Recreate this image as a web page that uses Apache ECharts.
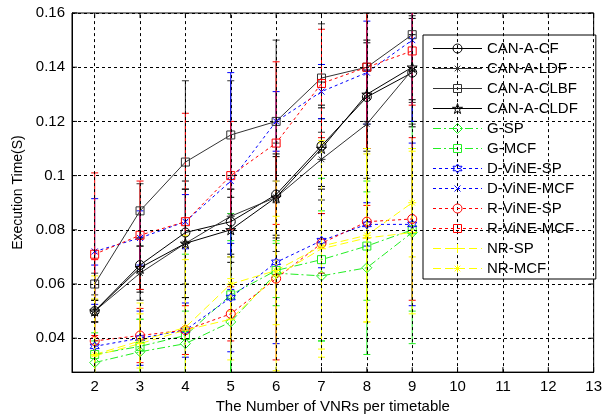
<!DOCTYPE html>
<html>
<head>
<meta charset="utf-8">
<script src="https://cdn.jsdelivr.net/npm/echarts@6/dist/echarts.min.js"></script>
<style>
  html, body { margin: 0; padding: 0; background: #fff; }
  #chart { width: 605px; height: 419px; }
</style>
</head>
<body>
<div id="chart"></div>
<script>
// x positions (number of VNRs per timetable)
const xValues = [2, 3, 4, 5, 6, 7, 8, 9];
const xTicks = [2, 3, 4, 5, 6, 7, 8, 9, 10, 11, 12, 13];
const yTicks = [0.04, 0.06, 0.08, 0.1, 0.12, 0.14, 0.16];

// mean execution time per algorithm
const canACF     = [0.050, 0.067, 0.079, 0.083, 0.093, 0.111, 0.129, 0.138];
const canALDF    = [0.050, 0.064, 0.075, 0.085, 0.092, 0.106, 0.119, 0.139];
const canACLBF   = [0.060, 0.087, 0.105, 0.115, 0.120, 0.136, 0.140, 0.152];
const canACLDF   = [0.050, 0.066, 0.075, 0.080, 0.092, 0.110, 0.130, 0.140];
const gSP        = [0.031, 0.035, 0.038, 0.046, 0.064, 0.063, 0.066, 0.079];
const gMCF       = [0.034, 0.037, 0.041, 0.056, 0.065, 0.069, 0.074, 0.080];
const dVineSP    = [0.037, 0.040, 0.043, 0.055, 0.068, 0.076, 0.082, 0.082];
const dVineMCF   = [0.072, 0.077, 0.083, 0.098, 0.120, 0.131, 0.138, 0.150];
const rVineSP    = [0.039, 0.041, 0.043, 0.049, 0.062, 0.075, 0.083, 0.084];
const rVineMCF   = [0.071, 0.078, 0.083, 0.100, 0.112, 0.134, 0.140, 0.146];
const nrSP       = [0.0335, 0.038, 0.043, 0.047, 0.063, 0.073, 0.077, 0.079];
const nrMCF      = [0.034, 0.039, 0.044, 0.060, 0.065, 0.074, 0.078, 0.090];

// symmetric error (half length of the error bar)
const canACFErr   = [0.004, 0.010, 0.019, 0.012, 0.015, 0.015, 0.020, 0.020];
const canALDFErr  = [0.004, 0.010, 0.020, 0.015, 0.020, 0.015, 0.020, 0.020];
const canACLBFErr = [0.004, 0.010, 0.030, 0.020, 0.030, 0.020, 0.020, 0.025];
const canACLDFErr = [0.004, 0.008, 0.020, 0.012, 0.015, 0.015, 0.020, 0.012];
const gSPErr      = [0.008, 0.012, 0.012, 0.030, 0.012, 0.024, 0.032, 0.041];
const gMCFErr     = [0.008, 0.010, 0.030, 0.030, 0.010, 0.030, 0.020, 0.030];
const dVineSPErr  = [0.030, 0.010, 0.010, 0.020, 0.030, 0.010, 0.008, 0.030];
const dVineMCFErr = [0.0195, 0.010, 0.010, 0.040, 0.011, 0.010, 0.019, 0.030];
const rVineSPErr  = [0.030, 0.010, 0.009, 0.010, 0.030, 0.011, 0.006, 0.030];
const rVineMCFErr = [0.030, 0.020, 0.040, 0.020, 0.030, 0.020, 0.030, 0.020];
const nrSPErr     = [0.0295, 0.015, 0.035, 0.015, 0.035, 0.040, 0.031, 0.030];
const nrMCFErr    = [0.0205, 0.010, 0.025, 0.010, 0.020, 0.038, 0.032, 0.020];

// marker shapes matlab uses (svg paths in a 10x10 box)
const circlePath = 'M0,5A5,5 0 1,1 10,5A5,5 0 1,1 0,5Z';
const squarePath = 'M0,0L10,0L10,10L0,10Z';
const diamondPath = 'M5,0L10,5L5,10L0,5Z';
const asteriskPath = 'M5,0L5,10M0,5L10,5M1.5,1.5L8.5,8.5M1.5,8.5L8.5,1.5';
const crossPath = 'M0,0L10,10M10,0L0,10';
const plusPath = 'M5,0L5,10M0,5L10,5';
const pentagramPath = 'M5,0L6.123,3.455L9.755,3.455L6.816,5.59L7.939,9.045L5,6.91L2.061,9.045L3.184,5.59L0.245,3.455L3.877,3.455Z';
const hexagramPath = 'M5,0L6.443,2.5L9.33,2.5L7.887,5L9.33,7.5L6.443,7.5L5,10L3.557,7.5L0.67,7.5L2.113,5L0.67,2.5L3.557,2.5Z';

const solid = 'solid';
const dashDot = [8, 3, 2, 3];
const dotted = [3, 3];
const dashed = [8, 4];

const defs = [
  { name: 'CAN-A-CF',    data: canACF,   err: canACFErr,   color: '#000000', dash: solid,   marker: circlePath,    size: 9 },
  { name: 'CAN-A-LDF',   data: canALDF,  err: canALDFErr,  color: '#333333', dash: solid,   marker: asteriskPath,  size: 8 },
  { name: 'CAN-A-CLBF',  data: canACLBF, err: canACLBFErr, color: '#333333', dash: solid,   marker: squarePath,    size: 8 },
  { name: 'CAN-A-CLDF',  data: canACLDF, err: canACLDFErr, color: '#000000', dash: solid,   marker: pentagramPath, size: 10 },
  { name: 'G-SP',        data: gSP,      err: gSPErr,      color: '#22ee22', dash: dashDot, marker: diamondPath,   size: 10 },
  { name: 'G-MCF',       data: gMCF,     err: gMCFErr,     color: '#22ee22', dash: dashDot, marker: squarePath,    size: 8 },
  { name: 'D-ViNE-SP',   data: dVineSP,  err: dVineSPErr,  color: '#0000ff', dash: dotted,  marker: hexagramPath,  size: 9 },
  { name: 'D-ViNE-MCF',  data: dVineMCF, err: dVineMCFErr, color: '#0000ff', dash: dotted,  marker: crossPath,     size: 6 },
  { name: 'R-ViNE-SP',   data: rVineSP,  err: rVineSPErr,  color: '#ff0000', dash: dotted,  marker: circlePath,    size: 9 },
  { name: 'R-ViNE-MCF',  data: rVineMCF, err: rVineMCFErr, color: '#ff0000', dash: dotted,  marker: squarePath,    size: 8 },
  { name: 'NR-SP',       data: nrSP,     err: nrSPErr,     color: '#ffff00', dash: dashed,  marker: plusPath,      size: 9 },
  { name: 'NR-MCF',      data: nrMCF,    err: nrMCFErr,    color: '#ffff00', dash: dashed,  marker: asteriskPath,  size: 8 }
];

const isMultiple = (v, step) => Math.abs(v / step - Math.round(v / step)) < 1e-6;

function errorBar(color) {
  return function (params, api) {
    const x = api.value(0);
    const lo = api.coord([x, api.value(1)]);
    const hi = api.coord([x, api.value(2)]);
    const r = params.coordSys;
    const top = Math.max(hi[1], r.y);
    const bot = Math.min(lo[1], r.y + r.height);
    const children = [];
    const style = { stroke: color, lineWidth: 1 };
    if (bot > top) {
      children.push({ type: 'line', shape: { x1: lo[0], y1: top, x2: lo[0], y2: bot }, style: style });
    }
    [lo[1], hi[1]].forEach(function (y) {
      if (y >= r.y && y <= r.y + r.height) {
        children.push({ type: 'line', shape: { x1: lo[0] - 3.5, y1: y, x2: lo[0] + 3.5, y2: y }, style: style });
      }
    });
    return { type: 'group', children: children };
  };
}

// inward matlab style ticks on all four sides of the box
function tickMarks(params, api) {
  const r = params.coordSys;
  const p = api.coord([api.value(0), api.value(1)]);
  const style = { stroke: '#000', lineWidth: 1 };
  const lines = api.value(2) === 0
    ? [[p[0], r.y + r.height, p[0], r.y + r.height - 5], [p[0], r.y, p[0], r.y + 5]]
    : [[r.x, p[1], r.x + 5, p[1]], [r.x + r.width, p[1], r.x + r.width - 5, p[1]]];
  return {
    type: 'group',
    children: lines.map(l => ({ type: 'line', shape: { x1: l[0], y1: l[1], x2: l[2], y2: l[3] }, style: style }))
  };
}

const series = [{
  type: 'line',
  data: [],
  silent: true,
  markLine: {
    silent: true,
    symbol: ['none', 'none'],
    label: { show: false },
    lineStyle: { color: '#000', type: [3, 3], width: 1 },
    data: xTicks.map(v => ({ xAxis: v })).concat(yTicks.map(v => ({ yAxis: v })))
  }
}, {
  type: 'custom',
  silent: true,
  renderItem: tickMarks,
  data: xTicks.map(v => [v, 0.1, 0]).concat(yTicks.map(v => [7, v, 1]))
}];

defs.forEach(function (d) {
  series.push({
    name: d.name + ' err',
    type: 'custom',
    renderItem: errorBar(d.color),
    encode: { x: 0, y: [1, 2] },
    data: xValues.map((x, i) => [x, d.data[i] - d.err[i], d.data[i] + d.err[i]]),
    silent: true
  });
  series.push({
    name: d.name,
    type: 'line',
    data: xValues.map((x, i) => [x, d.data[i]]),
    symbol: 'path://' + d.marker,
    symbolSize: d.size,
    showAllSymbol: true,
    lineStyle: { color: d.color, width: 1, type: d.dash },
    itemStyle: { color: 'transparent', borderColor: d.color, borderWidth: 1 }
  });
});

// legend box comes from the legend component; line + marker samples next to the text
// each legend row is 15px of text plus a 5px gap
const legendLeft = 423, legendTop = 35, textH = 15, rowGap = 5, padTop = 6, padLeft = 10, sampleW = 49;
series.push({
  name: 'legend samples',
  type: 'custom',
  coordinateSystem: 'none',
  silent: true,
  z: 10,
  data: defs.map((d, i) => [i]),
  renderItem: function (params) {
    const d = defs[params.dataIndex];
    const cy = legendTop + padTop + textH / 2 + params.dataIndex * (textH + rowGap);
    const x0 = legendLeft + padLeft;
    return {
      type: 'group',
      children: [{
        type: 'line',
        shape: { x1: x0, y1: cy, x2: x0 + sampleW, y2: cy },
        style: { stroke: d.color, lineWidth: 1, lineDash: d.dash === solid ? null : d.dash }
      }, {
        type: 'path',
        shape: { pathData: d.marker, x: x0 + sampleW / 2 - d.size / 2, y: cy - d.size / 2, width: d.size, height: d.size, layout: 'cover' },
        style: { fill: 'none', stroke: d.color, lineWidth: 1 }
      }]
    };
  }
});

const chart = echarts.init(document.getElementById('chart'));
chart.setOption({
  animation: false,
  textStyle: { fontFamily: 'Liberation Sans, Arial, sans-serif', color: '#000' },
  grid: { left: 72, top: 13, right: 11, bottom: 39, show: true, borderColor: '#000', borderWidth: 1, backgroundColor: '#fff' },
  legend: {
    orient: 'vertical',
    left: legendLeft,
    top: legendTop,
    data: defs.map(d => ({ name: d.name, icon: 'rect' })),
    selectedMode: false,
    itemWidth: sampleW,
    itemHeight: 14,
    itemGap: rowGap,
    padding: [padTop, 18, 3, padLeft],
    borderColor: '#000',
    borderWidth: 1,
    backgroundColor: '#fff',
    itemStyle: { color: 'transparent', borderWidth: 0, opacity: 0 },
    lineStyle: { width: 0, opacity: 0 },
    textStyle: { fontSize: 15, color: '#000', fontFamily: 'Liberation Sans, Arial, sans-serif' }
  },
  xAxis: {
    type: 'value',
    min: 1.5,
    max: 13,
    interval: 0.5,
    name: 'The Number of VNRs per timetable',
    nameLocation: 'middle',
    nameGap: 24,
    nameTextStyle: { fontSize: 15, color: '#000' },
    axisLine: { show: true, lineStyle: { color: '#000' } },
    axisTick: { show: false },
    splitLine: { show: false },
    axisLabel: {
      fontSize: 15, color: '#000', margin: 7,
      formatter: v => (isMultiple(v, 1) && v >= 2 ? String(Math.round(v)) : '')
    }
  },
  yAxis: {
    type: 'value',
    min: 0.0275,
    max: 0.16,
    interval: 0.0025,
    name: 'Execution Time(S)',
    nameLocation: 'middle',
    nameGap: 47,
    nameTextStyle: { fontSize: 14, color: '#000' },
    axisLine: { show: true, lineStyle: { color: '#000' } },
    axisTick: { show: false },
    splitLine: { show: false },
    axisLabel: {
      fontSize: 15, color: '#000', margin: 7,
      formatter: v => (isMultiple(v, 0.02) ? String(Math.round(v * 100) / 100) : '')
    }
  },
  series: series
});
</script>
</body>
</html>
